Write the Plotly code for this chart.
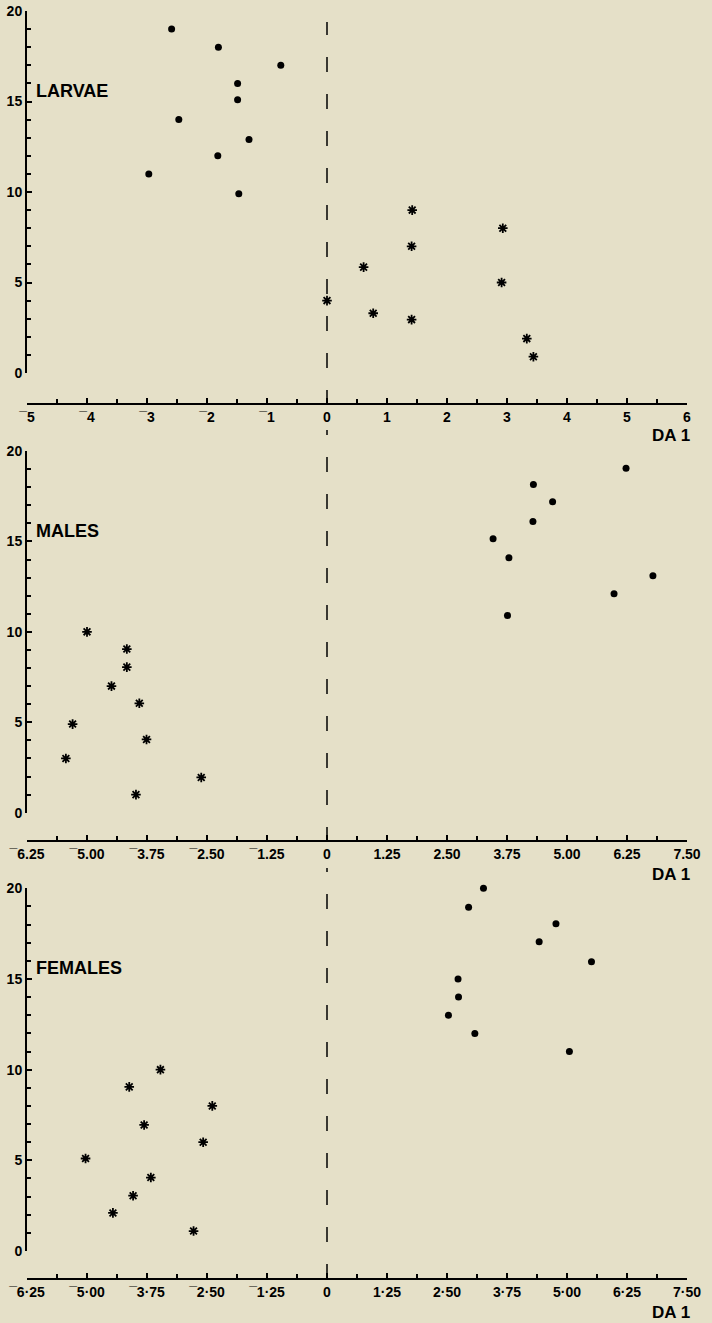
import plotly.graph_objects as go

# ---- data ----
larvae_dot_x = [-2.59, -1.81, -0.77, -1.49, -1.49, -2.47, -1.30, -1.82, -2.97, -1.47]
larvae_dot_y = [19, 18, 17, 16, 15.1, 14, 12.9, 12, 11, 9.9]
larvae_star_x = [0.0, 1.42, 1.41, 0.61, 0.77, 1.41, 2.93, 2.91, 3.33, 3.44]
larvae_star_y = [4, 9, 7, 5.85, 3.3, 2.95, 8, 5, 1.9, 0.9]

males_dot_x = [6.23, 4.30, 4.70, 4.29, 3.46, 3.79, 6.79, 5.98, 3.76]
males_dot_y = [19.05, 18.15, 17.2, 16.1, 15.15, 14.1, 13.1, 12.1, 10.9]
males_star_x = [-5.00, -4.17, -4.17, -4.49, -3.91, -5.30, -3.76, -5.44, -2.62, -3.98]
males_star_y = [10, 9.05, 8.05, 7, 6.05, 4.9, 4.05, 3, 1.95, 1]

females_dot_x = [3.26, 2.95, 4.77, 4.42, 5.51, 2.73, 2.74, 2.53, 3.08, 5.05]
females_dot_y = [20, 18.95, 18.05, 17.05, 15.95, 15, 14, 13, 12, 11]
females_star_x = [-3.47, -4.12, -2.39, -3.81, -2.58, -5.03, -3.67, -4.04, -4.46, -2.78]
females_star_y = [10, 9.05, 8, 6.95, 6, 5.1, 4.05, 3.05, 2.1, 1.1]

panel_names = ['LARVAE', 'MALES', 'FEMALES']

larvae_ticks = [-5, -4, -3, -2, -1, 0, 1, 2, 3, 4, 5, 6]
larvae_labels = ['\u00af5', '\u00af4', '\u00af3', '\u00af2', '\u00af1', '0', '1', '2', '3', '4', '5', '6']
adult_ticks = [-6.25, -5.0, -3.75, -2.5, -1.25, 0, 1.25, 2.5, 3.75, 5.0, 6.25, 7.5]
males_labels = ['\u00af6.25', '\u00af5.00', '\u00af3.75', '\u00af2.50', '\u00af1.25', '0',
                '1.25', '2.50', '3.75', '5.00', '6.25', '7.50']
females_labels = ['\u00af6\u00b725', '\u00af5\u00b700', '\u00af3\u00b775', '\u00af2\u00b750', '\u00af1\u00b725', '0',
                  '1\u00b725', '2\u00b750', '3\u00b775', '5\u00b700', '6\u00b725', '7\u00b750']

# ---- page geometry (pixels) ----
W, H = 712, 1323
BG = '#e5e0c8'
FONT = 'Liberation Sans'

def fy(px):
    return 1 - px / H

# (y=0 px, y=20 px, x axis px, "DA 1" px)
geom = [(373, 11, 404, 435), (812.7, 451, 841, 874), (1251, 888.3, 1279, 1312)]

fig = go.Figure()

series = [
    (larvae_dot_x, larvae_dot_y, larvae_star_x, larvae_star_y),
    (males_dot_x, males_dot_y, males_star_x, males_star_y),
    (females_dot_x, females_dot_y, females_star_x, females_star_y),
]
xranges = [(-5, 6, 0.5), (-6.25, 7.5, 0.625), (-6.25, 7.5, 0.625)]
xticks = [(larvae_ticks, larvae_labels), (adult_ticks, males_labels), (adult_ticks, females_labels)]

tickfont = dict(family=FONT, size=14, color='black', weight='bold')

for i, (dx, dy, sx, sy) in enumerate(series):
    n = '' if i == 0 else str(i + 1)
    fig.add_trace(go.Scatter(x=dx, y=dy, mode='markers', xaxis='x' + n, yaxis='y' + n,
                             marker=dict(symbol='circle', size=7, color='black'),
                             cliponaxis=False, showlegend=False))
    fig.add_trace(go.Scatter(x=sx, y=sy, mode='markers', xaxis='x' + n, yaxis='y' + n,
                             marker=dict(symbol='asterisk-open', size=8, color='black',
                                         line=dict(color='black', width=1.8)),
                             cliponaxis=False, showlegend=False))

    y0px, y20px, axpx, dapx = geom[i]
    lo, hi, mdt = xranges[i]
    tv, tt = xticks[i]
    fig.layout['xaxis' + n] = dict(
        domain=[0, 1], range=[lo, hi], anchor='free', position=fy(axpx),
        showline=True, linecolor='black', linewidth=2,
        ticks='inside', ticklen=5, tickwidth=1.5, tickcolor='black',
        tickmode='array', tickvals=tv, ticktext=tt, tickfont=tickfont,
        minor=dict(dtick=mdt, tick0=0, ticks='inside', ticklen=4, tickwidth=1.5, tickcolor='black'),
        showgrid=False, zeroline=False)
    fig.layout['yaxis' + n] = dict(
        domain=[fy(y0px), fy(y20px)], range=[0, 20], anchor='x' + n,
        showline=True, linecolor='black', linewidth=2,
        ticks='inside', ticklen=5, tickwidth=1.5, tickcolor='black',
        dtick=5, tick0=0, tickfont=tickfont,
        minor=dict(dtick=1, ticks='inside', ticklen=4, tickwidth=1.5, tickcolor='black'),
        showgrid=False, zeroline=False)

    fig.add_annotation(text=panel_names[i], xref='paper', yref='y' + n, x=0.011, y=15.6,
                       xanchor='left', yanchor='middle', showarrow=False,
                       font=dict(family=FONT, size=18, color='black', weight='bold'))
    fig.add_annotation(text='DA 1', xref='paper', yref='paper', x=(692 - 27) / 660, y=fy(dapx),
                       xanchor='right', yanchor='middle', showarrow=False,
                       font=dict(family=FONT, size=17, color='black', weight='bold'))

# dashed line at DA 1 = 0, broken where the "0" labels sit
for top, bot in [(22, 405), (430, 842), (868, 1279)]:
    fig.add_shape(type='line', xref='x', yref='paper', x0=0, x1=0, y0=fy(bot), y1=fy(top),
                  line=dict(color='black', width=1.5, dash='15px,22px'))

fig.update_layout(width=W, height=H, paper_bgcolor=BG, plot_bgcolor=BG,
                  margin=dict(l=27, r=25, t=0, b=0, autoexpand=False),
                  showlegend=False)

# drop the page's default body margin so the figure fills the window
fig.write_html('out.html', config={'displayModeBar': False},
               post_script="document.body.style.margin='0';document.body.style.background='%s';" % BG)
